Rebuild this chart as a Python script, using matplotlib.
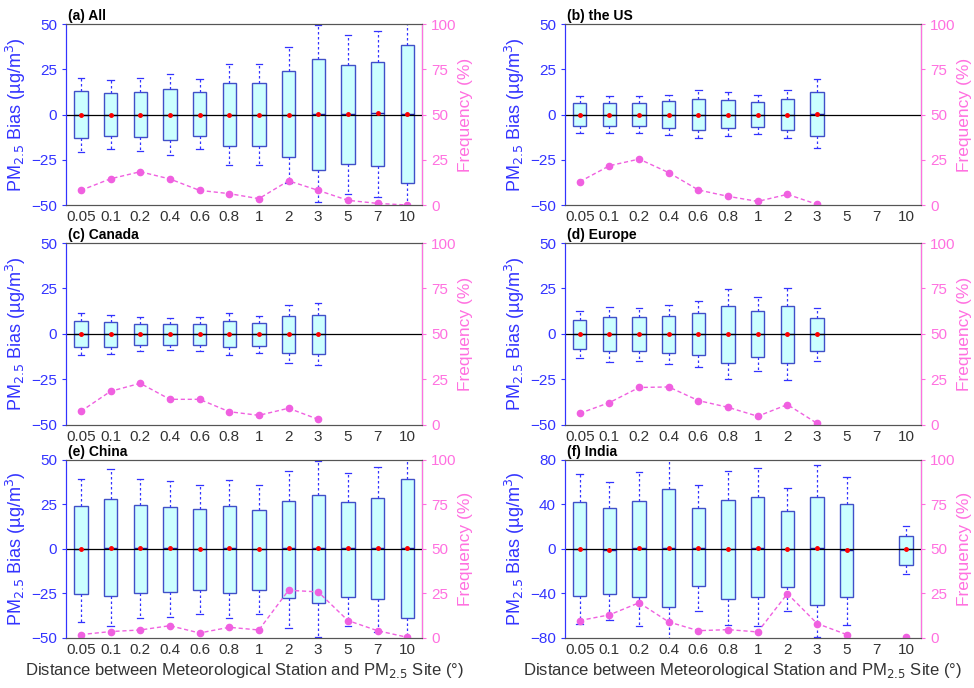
import numpy as np
import matplotlib
matplotlib.use("Agg")
import matplotlib.pyplot as plt

plt.rcParams['font.family'] = ['Liberation Sans', 'DejaVu Sans']

# distance bins (degrees)
dist_labels = ['0.05', '0.1', '0.2', '0.4', '0.6', '0.8', '1', '2', '3', '5', '7', '10']

# per panel: whisker low, q1, median, q3, whisker high, frequency (%)
# None = no data in that bin
all_wlo = [-20.6, -19.2, -20.3, -22.5, -19.2, -27.8, -27.8, -38.0, -48.6, -44.0, -45.8, -60.0]
all_q1 = [-12.7, -12.0, -12.3, -13.8, -12.0, -17.5, -17.5, -23.2, -30.6, -27.4, -28.2, -37.7]
all_med = [0.0, 0.0, 0.0, 0.0, 0.0, 0.0, 0.0, 0.0, 0.4, 0.2, 0.7, 0.5]
all_q3 = [12.9, 12.0, 12.5, 14.2, 12.2, 17.5, 17.3, 24.0, 30.6, 27.4, 29.1, 38.7]
all_whi = [20.4, 19.0, 20.0, 22.5, 19.7, 28.2, 27.8, 37.2, 49.4, 44.2, 46.4, 60.0]
all_freq = [8.1, 14.5, 18.4, 14.4, 8.1, 6.3, 3.5, 13.4, 8.1, 2.6, 0.9, 0.0]

us_wlo = [-10.1, -10.1, -10.1, -11.2, -12.9, -12.0, -11.0, -12.9, -18.6]
us_q1 = [-6.6, -6.6, -6.4, -7.2, -8.5, -7.7, -7.0, -8.5, -11.8]
us_med = [0.0, 0.0, 0.0, 0.0, 0.0, 0.0, 0.0, 0.0, 0.1]
us_q3 = [6.4, 6.4, 6.4, 7.5, 8.5, 8.1, 7.2, 8.5, 12.3]
us_whi = [10.1, 10.1, 10.1, 11.0, 13.3, 12.2, 11.0, 13.3, 19.5]
us_freq = [12.9, 21.7, 25.4, 17.9, 8.3, 4.8, 2.0, 5.9, 0.4]

ca_wlo = [-11.5, -11.1, -9.6, -8.9, -9.6, -11.7, -10.4, -16.1, -17.0]
ca_q1 = [-7.2, -7.0, -6.1, -5.9, -6.1, -7.2, -6.5, -10.2, -10.9]
ca_med = [0.0, 0.0, 0.0, 0.0, 0.0, 0.0, 0.0, 0.0, 0.0]
ca_q3 = [7.0, 6.7, 5.7, 5.5, 5.7, 7.2, 6.3, 9.8, 10.6]
ca_whi = [11.5, 10.7, 9.6, 9.0, 9.6, 11.7, 10.0, 15.7, 16.9]
ca_freq = [7.5, 18.5, 22.9, 14.1, 14.1, 7.3, 5.3, 9.2, 3.1]

eu_wlo = [-13.1, -15.4, -14.8, -16.3, -18.0, -24.8, -20.4, -25.2, -14.8]
eu_q1 = [-8.3, -9.6, -9.3, -10.4, -11.5, -15.7, -12.8, -15.7, -9.3]
eu_med = [0.0, 0.0, 0.0, 0.0, 0.2, 0.0, 0.0, 0.0, 0.0]
eu_q3 = [7.6, 9.3, 9.1, 10.0, 11.3, 15.2, 12.6, 15.2, 8.9]
eu_whi = [12.6, 14.8, 14.3, 15.7, 18.0, 24.6, 20.2, 25.0, 14.3]
eu_freq = [6.4, 12.3, 20.6, 20.9, 13.4, 9.7, 4.8, 11.2, 0.9]

cn_wlo = [-40.9, -43.2, -38.8, -38.3, -36.6, -38.6, -36.8, -44.3, -49.3, -43.2, -46.4, -60.0]
cn_q1 = [-25.5, -26.3, -24.6, -24.0, -23.1, -25.0, -23.3, -27.4, -30.6, -26.8, -28.1, -39.0]
cn_med = [-0.2, 0.6, 0.4, 0.4, 0.0, 0.4, 0.0, 0.4, 0.6, 0.3, 0.8, 0.6]
cn_q3 = [24.4, 28.3, 24.6, 23.8, 22.3, 24.2, 22.1, 27.2, 30.6, 26.6, 28.7, 39.6]
cn_whi = [39.6, 45.0, 39.2, 38.1, 36.0, 39.0, 35.8, 43.7, 49.7, 42.8, 45.8, 60.0]
cn_freq = [1.9, 3.6, 4.5, 6.9, 2.8, 6.0, 4.5, 26.8, 25.9, 9.8, 4.1, 0.4]

in_wlo = [-67.8, -64.2, -69.6, -90.0, -55.4, -68.4, -69.6, -55.4, -79.2, -68.1, None, -22.3]
in_q1 = [-41.9, -40.7, -43.4, -52.1, -33.7, -44.9, -43.1, -34.6, -50.0, -43.4, None, -14.8]
in_med = [0.0, -0.6, 0.6, 1.0, 1.0, 0.0, 0.6, 0.0, 0.6, -0.5, None, 0.0]
in_q3 = [41.9, 37.0, 43.1, 54.2, 36.4, 43.7, 46.4, 34.6, 46.4, 40.1, None, 12.0]
in_whi = [67.8, 60.0, 69.3, 90.0, 57.8, 69.9, 73.2, 54.8, 75.3, 64.8, None, 20.5]
in_freq = [9.8, 13.0, 19.8, 9.0, 4.1, 4.7, 3.4, 24.9, 8.1, 1.9, None, 0.3]

panels = [
    ('(a) All', all_wlo, all_q1, all_med, all_q3, all_whi, all_freq, 50),
    ('(b) the US', us_wlo, us_q1, us_med, us_q3, us_whi, us_freq, 50),
    ('(c) Canada', ca_wlo, ca_q1, ca_med, ca_q3, ca_whi, ca_freq, 50),
    ('(d) Europe', eu_wlo, eu_q1, eu_med, eu_q3, eu_whi, eu_freq, 50),
    ('(e) China', cn_wlo, cn_q1, cn_med, cn_q3, cn_whi, cn_freq, 50),
    ('(f) India', in_wlo, in_q1, in_med, in_q3, in_whi, in_freq, 80),
]

BLUE = '#3333ff'
PINK = '#ff70e0'
FREQ_C = '#f060e0'
GRAY = '#333333'

# axes rectangles in figure fractions (left, bottom, width, height)
lefts = [0.0678, 0.580]
rows = [(0.702, 0.263), (0.3823, 0.2645), (0.0727, 0.2587)]

fig = plt.figure(figsize=(9.74, 6.88), dpi=100)

for i, (title, wlo, q1, med, q3, whi, freq, ylim) in enumerate(panels):
    r, c = divmod(i, 2)
    ax = fig.add_axes([lefts[c], rows[r][0], 0.3655, rows[r][1]])
    ax2 = ax.twinx()

    stats = []
    pos = []
    for k in range(len(q1)):
        if q1[k] is None:
            continue
        stats.append(dict(whislo=wlo[k], q1=q1[k], med=med[k], q3=q3[k], whishi=whi[k], fliers=[]))
        pos.append(k + 1)

    ax.bxp(stats, positions=pos, widths=0.45, patch_artist=True, showfliers=False,
           boxprops=dict(facecolor='#ccffff', edgecolor='#4050c8', linewidth=1.0),
           whiskerprops=dict(color=BLUE, linestyle=(0, (2, 2)), linewidth=0.9),
           capprops=dict(color=BLUE, linewidth=0.9),
           medianprops=dict(color='#2020a0', linewidth=1.0),
           capwidths=0.22, zorder=2)
    ax.axhline(0, color='black', linewidth=0.9, zorder=3)
    ax.plot(pos, [med[k - 1] for k in pos], 'o', color='red', markersize=2.5, zorder=4)

    ax.set_xlim(0.5, 12.5)
    ax.set_ylim(-ylim, ylim)
    if ylim == 80:
        ax.set_yticks([-80, -40, 0, 40, 80])
    else:
        ax.set_yticks([-50, -25, 0, 25, 50])
    ax.set_xticks(range(1, 13))
    ax.set_xticklabels(dist_labels, color=GRAY, fontsize=11)
    ax.tick_params(axis='x', length=0)
    ax.tick_params(axis='y', colors=BLUE, labelsize=11, length=3, direction='out')
    ax.spines['left'].set_color(BLUE)
    ax.spines['bottom'].set_color('#555555')
    ax.spines['top'].set_color('#555555')
    ax.set_ylabel('PM$_{2.5}$ Bias (µg/m$^3$)', color=BLUE, fontsize=13, labelpad=2)

    # frequency line on the right axis, drawn over the boxes
    fx = [k + 1 for k in range(len(freq)) if freq[k] is not None]
    fy = [f for f in freq if f is not None]
    fy_full = [np.nan if f is None else f for f in freq]
    ax2.plot(range(1, len(fy_full) + 1), fy_full, linestyle=(0, (3, 2)), color=FREQ_C,
             linewidth=1.0)
    ax2.plot(fx, fy, 'o', color=FREQ_C, markersize=4.5)
    ax2.set_ylim(0, 100)
    ax2.set_yticks([0, 25, 50, 75, 100])
    ax2.tick_params(axis='y', colors=PINK, labelsize=11, length=3, direction='out')
    ax2.spines['right'].set_color(PINK)
    ax2.spines['left'].set_color(BLUE)
    ax2.spines['top'].set_color('#555555')
    ax2.spines['bottom'].set_color('#555555')
    ax2.set_ylabel('Frequency (%)', color=PINK, fontsize=12.5, labelpad=1)

    ax.text(0.005, 1.005, title, transform=ax.transAxes, fontsize=10, fontweight='bold',
            ha='left', va='bottom')

    if r == 2:
        ax.set_xlabel('Distance between Meteorological Station and PM$_{2.5}$ Site (°)',
                      color=GRAY, fontsize=12, labelpad=3)

fig.savefig('out.png', dpi=100)
